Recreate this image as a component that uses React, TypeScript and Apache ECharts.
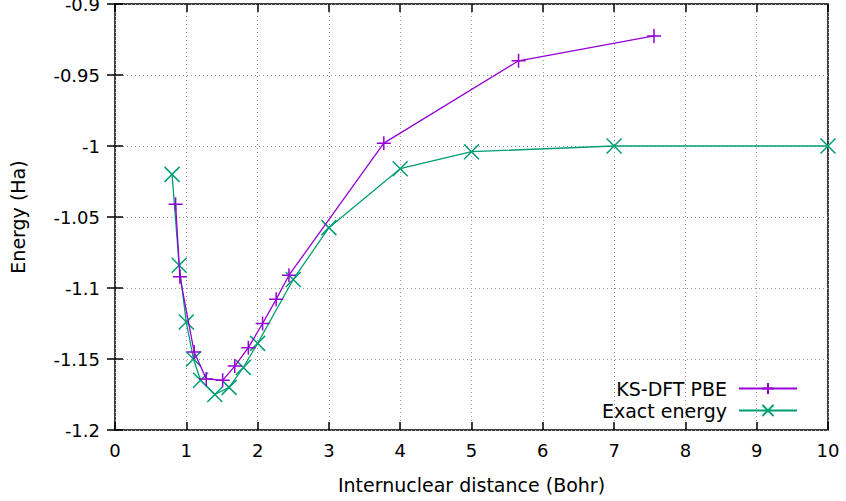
import React, { useEffect, useRef } from "react";
import * as echarts from "echarts";

const pbeDistance = [0.85, 0.91, 1.11, 1.28, 1.51, 1.68, 1.87, 2.07, 2.26, 2.44, 3.77, 5.66, 7.56];
const pbeEnergy = [-1.041, -1.092, -1.145, -1.164, -1.165, -1.155, -1.142, -1.125, -1.108, -1.091, -0.998, -0.94, -0.9225];
const exactDistance = [0.8, 0.9, 1.0, 1.1, 1.2, 1.4, 1.6, 1.8, 2.0, 2.5, 3.0, 4.0, 5.0, 7.0, 10.0];
const exactEnergy = [-1.02, -1.084, -1.124, -1.15, -1.165, -1.175, -1.17, -1.156, -1.139, -1.094, -1.0575, -1.016, -1.004, -1.0, -1.0];

const seriesNames = ["KS-DFT PBE", "Exact energy"];
const xAxisTitle = "Internuclear distance (Bohr)";
const yAxisTitle = "Energy (Ha)";

const PURPLE = "#9400d3";
const GREEN = "#009e73";
const FONT = "DejaVu Sans";

export default function App() {
  const ref = useRef<HTMLDivElement>(null);
  useEffect(() => {
    if (!ref.current) return;
    const chart = echarts.init(ref.current, null, { renderer: "svg" });
    const tickStyle = { show: true, inside: true, length: 8, lineStyle: { color: "#000", width: 1.5 } };
    const gridLine = { show: true, lineStyle: { color: "#999", type: [1, 3] as any, width: 1 } };
    const labelStyle = { fontFamily: FONT, fontSize: 18, color: "#000" };
    chart.setOption({
      animation: false,
      backgroundColor: "#fff",
      grid: {
        left: 115,
        right: 18,
        top: 4,
        bottom: 71,
        show: true,
        borderColor: "#000",
        borderWidth: 1.5,
        outerBoundsMode: "none",
        containLabel: false,
      },
      legend: {
        right: 43,
        top: 374,
        orient: "vertical",
        align: "right",
        itemWidth: 58,
        itemHeight: 14,
        itemGap: 3,
        textStyle: { fontFamily: FONT, fontSize: 19, color: "#000", padding: [0, 7, 0, 0] },
        data: seriesNames,
      },
      xAxis: [
        {
          type: "value",
          min: 0,
          max: 10,
          interval: 1,
          position: "bottom",
          axisLine: { show: false },
          axisTick: tickStyle,
          splitLine: gridLine,
          axisLabel: { ...labelStyle, margin: 11 },
          name: xAxisTitle,
          nameLocation: "middle",
          nameGap: 45,
          nameTextStyle: { fontFamily: FONT, fontSize: 19, color: "#000" },
        },
        {
          type: "value",
          min: 0,
          max: 10,
          interval: 1,
          position: "top",
          axisLine: { show: false },
          axisTick: tickStyle,
          splitLine: { show: false },
          axisLabel: { show: false },
        },
      ],
      yAxis: [
        {
          type: "value",
          min: -1.2,
          max: -0.9,
          interval: 0.05,
          position: "left",
          axisLine: { show: false },
          axisTick: tickStyle,
          splitLine: gridLine,
          axisLabel: { ...labelStyle, margin: 15 },
          name: yAxisTitle,
          nameLocation: "middle",
          nameGap: 88,
          nameTextStyle: { fontFamily: FONT, fontSize: 19, color: "#000" },
        },
        {
          type: "value",
          min: -1.2,
          max: -0.9,
          interval: 0.05,
          position: "right",
          axisLine: { show: false },
          axisTick: tickStyle,
          splitLine: { show: false },
          axisLabel: { show: false },
        },
      ],
      series: [
        {
          name: seriesNames[0],
          type: "line",
          data: pbeDistance.map((d, i) => [d, pbeEnergy[i]]),
          symbol: "path://M0,-1L0,1M-1,0L1,0",
          symbolSize: 14,
          lineStyle: { color: PURPLE, width: 1.3 },
          itemStyle: { color: PURPLE, borderColor: PURPLE, borderWidth: 1.5 },
          emphasis: { disabled: true },
          z: 3,
        },
        {
          name: seriesNames[1],
          type: "line",
          data: exactDistance.map((d, i) => [d, exactEnergy[i]]),
          symbol: "path://M-1,-1L1,1M-1,1L1,-1",
          symbolSize: 15,
          lineStyle: { color: GREEN, width: 1.3 },
          itemStyle: { color: GREEN, borderColor: GREEN, borderWidth: 1.5 },
          emphasis: { disabled: true },
          z: 2,
        },
      ],
    });
    return () => chart.dispose();
  }, []);
  return <div ref={ref} style={{ position: "fixed", left: 0, top: 0, width: 846, height: 501 }} />;
}
